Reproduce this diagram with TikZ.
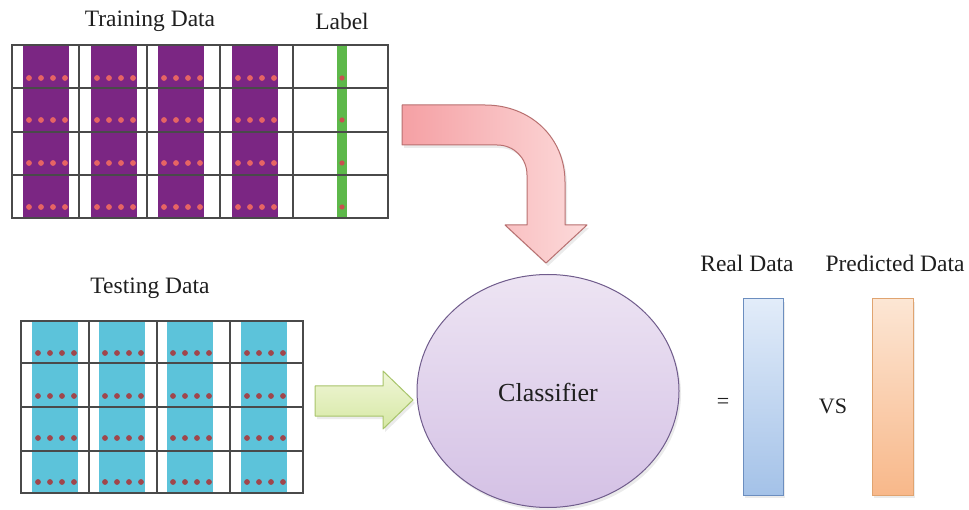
\documentclass[tikz,border=0pt]{standalone}
\usepackage{fontspec}
\setmainfont{Liberation Serif}
\usetikzlibrary{shapes.geometric}
\definecolor{gridc}{HTML}{4A4A4A}
\definecolor{purp}{HTML}{7B2683}
\definecolor{pdot}{HTML}{E66464}
\definecolor{lgreen}{HTML}{5DB84A}
\definecolor{gdot}{HTML}{C85050}
\definecolor{cyanb}{HTML}{5CC3DA}
\definecolor{cdot}{HTML}{A0464C}
\tikzset{
  gridline/.style={draw=gridc, line width=1.1pt},
  title/.style={font=\fontsize{23.5}{28}\selectfont, inner sep=0pt, text=black!88},
  bigtext/.style={font=\fontsize{26}{30}\selectfont, inner sep=0pt, text=black!88},
  midtext/.style={font=\fontsize{22}{26}\selectfont, inner sep=0pt, text=black!88},
  softshadow/.style={fill=black, opacity=0.08},
}
\begin{document}
\begin{tikzpicture}[x=1pt,y=-1pt]
\useasboundingbox (0,0) rectangle (969,510);
\fill[white] (0,0) rectangle (969,510);

% ---------- Training data ----------
\foreach \bx in {23,91,158,232}{
  \fill[purp] (\bx,45) rectangle (\bx+46,218);
  \foreach \dy in {78,120,163,207}{
    \foreach \k in {0,...,3}{
      \fill[pdot] (\bx+6+12*\k,\dy) circle (2.9pt);
    }
  }
}
\fill[lgreen] (337,45) rectangle (347,218);
\foreach \dy in {78,120,163,207}{\fill[gdot] (342,\dy) circle (2.6pt);}
\draw[gridline] (12,45) rectangle (388,218);
\foreach \gx in {79,147,220,293}{\draw[gridline] (\gx,45) -- (\gx,218);}
\foreach \gy in {88,132,175}{\draw[gridline] (12,\gy) -- (388,\gy);}
\node[title] (trainlbl) at (150,21) {Training Data};
\node[title] (labellbl) at (342,21) {Label};

% ---------- Testing data ----------
\foreach \bx in {32,99,167,241}{
  \fill[cyanb] (\bx,321) rectangle (\bx+46,493);
  \foreach \dy in {353,396,438,482}{
    \foreach \k in {0,...,3}{
      \fill[cdot] (\bx+6+12*\k,\dy) circle (2.9pt);
    }
  }
}
\draw[gridline] (21,321) rectangle (303,493);
\foreach \gx in {89,157,230}{\draw[gridline] (\gx,321) -- (\gx,493);}
\foreach \gy in {363,407,451}{\draw[gridline] (21,\gy) -- (303,\gy);}
\node[title] (testlbl) at (150,288) {Testing Data};

% ---------- Curved arrow ----------
\fill[softshadow, shift={(2,3)}]
  (402,105) -- (485,105) .. controls (530,105) and (565,137) .. (565,182)
  -- (565,225) -- (587,225) -- (546,263) -- (505,225) -- (527,225) -- (527,175)
  .. controls (527,158) and (514,145) .. (497,145) -- (402,145) -- cycle;
\shade[left color={rgb,255:red,245;green,160;blue,164}, right color={rgb,255:red,252;green,218;blue,218}]
  (402,105) -- (485,105) .. controls (530,105) and (565,137) .. (565,182)
  -- (565,225) -- (587,225) -- (546,263) -- (505,225) -- (527,225) -- (527,175)
  .. controls (527,158) and (514,145) .. (497,145) -- (402,145) -- cycle;
\draw[draw={rgb,255:red,184;green,112;blue,112}, line width=1pt, line join=round]
  (402,105) -- (485,105) .. controls (530,105) and (565,137) .. (565,182)
  -- (565,225) -- (587,225) -- (546,263) -- (505,225) -- (527,225) -- (527,175)
  .. controls (527,158) and (514,145) .. (497,145) -- (402,145) -- cycle;

% ---------- Green arrow ----------
\fill[softshadow, shift={(2,3)}]
  (315,386) -- (383,386) -- (383,371) -- (413,400) -- (383,429) -- (383,416) -- (315,416) -- cycle;
\shade[top color={rgb,255:red,240;green,246;blue,216}, bottom color={rgb,255:red,214;green,232;blue,164},
  draw={rgb,255:red,168;green,196;blue,106}, line width=1pt, line join=round]
  (315,386) -- (383,386) -- (383,371) -- (413,400) -- (383,429) -- (383,416) -- (315,416) -- cycle;

% ---------- Classifier ----------
\fill[softshadow] (550,394) ellipse [x radius=131pt, y radius=116.5pt];
\node[ellipse, minimum width=262pt, minimum height=233pt, inner sep=0pt,
  top color={rgb,255:red,237;green,228;blue,243}, bottom color={rgb,255:red,212;green,193;blue,229},
  draw={rgb,255:red,112;green,92;blue,140}, line width=1pt] (clf) at (548,391) {};
\node[bigtext] (clftxt) at (548,392) {Classifier};

% ---------- Output bars ----------
\node[midtext] (eq) at (723,403) {=};
\fill[softshadow] (745,302) rectangle (785,498);
\fill[softshadow] (874,302) rectangle (915,498);
\draw[draw={rgb,255:red,108;green,142;blue,191}, line width=1pt,
  top color={rgb,255:red,226;green,236;blue,249}, bottom color={rgb,255:red,164;green,194;blue,232}]
  (743,299) rectangle (783,495);
\draw[draw={rgb,255:red,224;green,164;blue,112}, line width=1pt,
  top color={rgb,255:red,252;green,230;blue,212}, bottom color={rgb,255:red,248;green,184;blue,138}]
  (872,299) rectangle (913,495);
\node[midtext] (vs) at (833,406) {VS};
\node[title] (reallbl) at (747,263) {Real Data};
\node[title] (predlbl) at (895,263) {Predicted Data};
\end{tikzpicture}
\end{document}
